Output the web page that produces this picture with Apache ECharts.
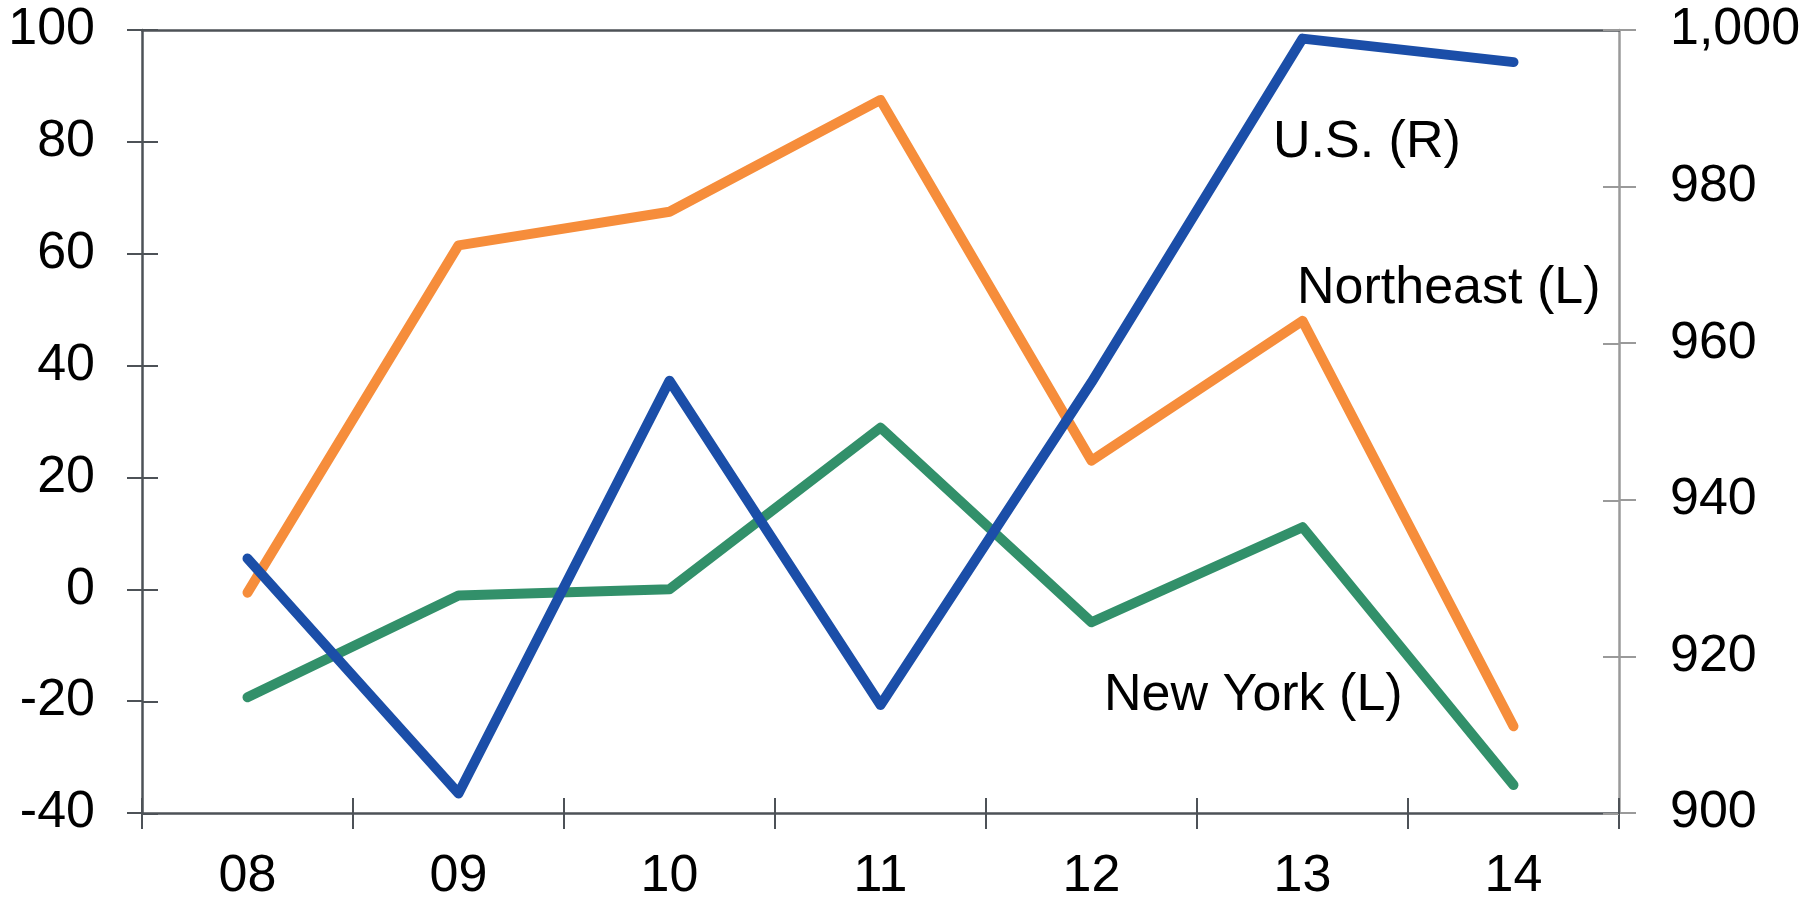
<!DOCTYPE html>
<html>
<head>
<meta charset="utf-8">
<script src="https://cdn.jsdelivr.net/npm/echarts@6/dist/echarts.min.js"></script>
<style>
html,body{margin:0;padding:0;background:#fff;}
#chart{width:1812px;height:903px;}
</style>
</head>
<body>
<div id="chart"></div>
<script>
const categories = ['08', '09', '10', '11', '12', '13', '14'];
const northeast = [-0.6, 61.5, 67.5, 87.5, 23, 48, -24.5];
const newYork = [-19.3, -1.1, 0, 28.9, -5.9, 11.1, -35];
const us = [932.5, 902.5, 955.2, 913.8, 955.0, 998.9, 995.9];
const leftAxis = {min: -40, max: 100, interval: 20};
const rightAxis = {min: 900, max: 1000, interval: 20};
const labels = {us: 'U.S. (R)', northeast: 'Northeast (L)', newYork: 'New York (L)'};

const FONT = '"Liberation Sans", Arial, sans-serif';
const AX = '#4d5257';
const AXR = '#9a9a9a';
const chart = echarts.init(document.getElementById('chart'), null, {renderer: 'canvas'});

const lineStyle = (c) => ({color: c, width: 10, cap: 'round', join: 'round'});
const HALF = 16; // inner half of the crossing ticks
const G = {left: 142, right: 193, top: 30, bottom: 89};

const tickOnly = (color, extra) => Object.assign({
  z: 10,
  axisLine: {show: false, onZero: false},
  axisTick: {show: true, inside: false, length: HALF, lineStyle: {color: color, width: 2}},
  axisLabel: {show: false}, splitLine: {show: false}
}, extra);

chart.setOption({
  animation: false,
  backgroundColor: '#fff',
  grid: [
    {left: G.left, right: G.right, top: G.top, bottom: G.bottom, containLabel: false},
    {left: G.left, right: G.right, top: G.top, bottom: G.bottom + HALF, containLabel: false},
    {left: G.left + HALF, right: G.right + HALF, top: G.top, bottom: G.bottom, containLabel: false}
  ],
  xAxis: [
    {gridIndex: 0, type: 'category', data: categories, position: 'bottom', boundaryGap: true,
     axisLine: {onZero: false, lineStyle: {color: AX, width: 2.5}},
     axisTick: {show: true, inside: false, length: 16, lineStyle: {color: AX, width: 2}},
     axisLabel: {color: '#000', fontSize: 52, fontFamily: FONT, margin: 38},
     splitLine: {show: false}},
    {gridIndex: 0, type: 'category', data: categories, position: 'top', boundaryGap: true,
     axisLine: {show: true, onZero: false, lineStyle: {color: AX, width: 2.5}},
     axisTick: {show: false}, axisLabel: {show: false}, splitLine: {show: false}},
    tickOnly(AX, {gridIndex: 1, type: 'category', data: categories, position: 'bottom', boundaryGap: true}),
    {gridIndex: 2, show: false, type: 'category', data: categories, position: 'bottom', boundaryGap: true}
  ],
  yAxis: [
    {gridIndex: 0, type: 'value', position: 'left', min: leftAxis.min, max: leftAxis.max, interval: leftAxis.interval,
     axisLine: {show: true, onZero: false, lineStyle: {color: AX, width: 2.5}},
     axisTick: {show: true, inside: false, length: 15, lineStyle: {color: AX, width: 2}},
     axisLabel: {color: '#000', fontSize: 52, fontFamily: FONT, margin: 47},
     splitLine: {show: false}},
    {gridIndex: 0, type: 'value', position: 'right', min: rightAxis.min, max: rightAxis.max, interval: rightAxis.interval,
     axisLine: {show: true, onZero: false, lineStyle: {color: AXR, width: 2.5}},
     axisTick: {show: true, inside: false, length: 17, lineStyle: {color: AXR, width: 2}},
     axisLabel: {color: '#000', fontSize: 52, fontFamily: FONT, margin: 51,
       formatter: (v) => v.toLocaleString('en-US')},
     splitLine: {show: false}},
    {gridIndex: 1, show: false, type: 'value', position: 'left', min: leftAxis.min, max: leftAxis.max, interval: leftAxis.interval},
    tickOnly(AX, {gridIndex: 2, type: 'value', position: 'left', min: leftAxis.min, max: leftAxis.max, interval: leftAxis.interval}),
    tickOnly(AXR, {gridIndex: 2, type: 'value', position: 'right', min: rightAxis.min, max: rightAxis.max, interval: rightAxis.interval})
  ],
  series: [
    {name: labels.northeast, type: 'line', data: northeast, xAxisIndex: 0, yAxisIndex: 0,
     symbol: 'none', lineStyle: lineStyle('#f68d3b'), z: 3},
    {name: labels.newYork, type: 'line', data: newYork, xAxisIndex: 0, yAxisIndex: 0,
     symbol: 'none', lineStyle: lineStyle('#32906a'), z: 4},
    {name: labels.us, type: 'line', data: us, xAxisIndex: 0, yAxisIndex: 1,
     symbol: 'none', lineStyle: lineStyle('#1b4ea8'), z: 5}
  ],
  graphic: [
    {type: 'text', x: 1273, y: 143, style: {text: labels.us, fill: '#000', font: '52px ' + FONT, verticalAlign: 'middle'}, silent: true},
    {type: 'text', x: 1297, y: 289, style: {text: labels.northeast, fill: '#000', font: '52px ' + FONT, verticalAlign: 'middle'}, silent: true},
    {type: 'text', x: 1104, y: 696, style: {text: labels.newYork, fill: '#000', font: '52px ' + FONT, verticalAlign: 'middle'}, silent: true}
  ]
});
</script>
</body>
</html>
